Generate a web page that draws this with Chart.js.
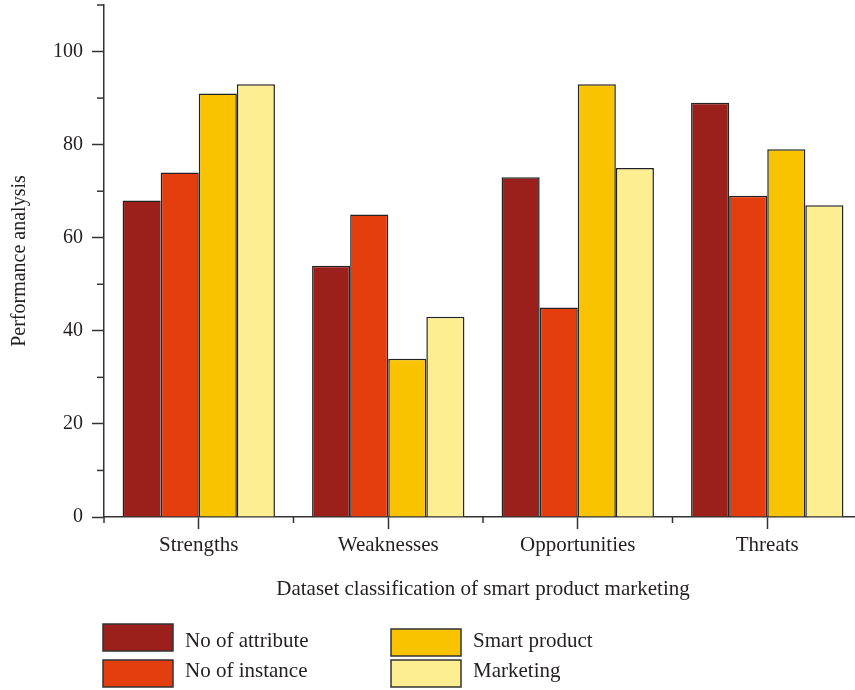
<!DOCTYPE html>
<html>
<head>
<meta charset="utf-8">
<script src="https://cdn.jsdelivr.net/npm/chart.js@4/dist/chart.umd.min.js"></script>
<style>
  html, body { margin: 0; padding: 0; background: #fff; overflow: hidden; }
  #wrap { position: relative; width: 862px; height: 690px; }
</style>
</head>
<body>
<div id="wrap"><canvas id="chart" width="862" height="690"></canvas></div>
<script>
// Categories and series
const categories = ['Strengths', 'Weaknesses', 'Opportunities', 'Threats'];
const seriesNames = ['No of attribute', 'No of instance', 'Smart product', 'Marketing'];
const noOfAttribute = [68, 54, 73, 89];
const noOfInstance = [74, 65, 45, 69];
const smartProduct = [91, 34, 93, 79];
const marketing = [93, 43, 75, 67];
const yTicks = [0, 20, 40, 60, 80, 100];
const yMinorTicks = [10, 30, 50, 70, 90, 110];

const colors = ['#9B201B', '#E43E0E', '#F9C300', '#FDEF91'];
const seriesValues = [noOfAttribute, noOfInstance, smartProduct, marketing];
const FONT = '"Liberation Serif", "DejaVu Serif", serif';
const INK = '#231F20';

// Minor tick marks on both axes, and the two-column legend under the chart
const extrasPlugin = {
  id: 'extras',
  afterDraw(chart) {
    const ctx = chart.ctx;
    const y = chart.scales.y, x = chart.scales.x;
    ctx.save();
    ctx.strokeStyle = '#333';
    ctx.lineWidth = 1.5;
    // y minor ticks
    yMinorTicks.forEach(v => {
      const py = y.getPixelForValue(v);
      ctx.beginPath();
      ctx.moveTo(y.right - 7, py);
      ctx.lineTo(y.right, py);
      ctx.stroke();
    });
    // x minor ticks at category boundaries
    const step = x.getPixelForValue(1) - x.getPixelForValue(0);
    for (let i = 0; i <= categories.length; i++) {
      const px = x.getPixelForValue(i) - step / 2;
      ctx.beginPath();
      ctx.moveTo(px, x.top);
      ctx.lineTo(px, x.top + 6);
      ctx.stroke();
    }
    // legend
    const slots = [
      { bx: 103, by: 624, ty: 641 },
      { bx: 103, by: 660, ty: 671 },
      { bx: 391, by: 629, ty: 641 },
      { bx: 391, by: 660, ty: 671 }
    ];
    ctx.font = '21px ' + FONT;
    ctx.textBaseline = 'middle';
    ctx.textAlign = 'left';
    chart.data.datasets.forEach((ds, i) => {
      const s = slots[i];
      ctx.fillStyle = ds.backgroundColor;
      ctx.fillRect(s.bx, s.by, 70, 27);
      ctx.strokeStyle = '#333';
      ctx.lineWidth = 1.5;
      ctx.strokeRect(s.bx, s.by, 70, 27);
      ctx.fillStyle = INK;
      ctx.fillText(ds.label, s.bx + 82, s.ty);
    });
    ctx.restore();
  }
};

new Chart(document.getElementById('chart'), {
  type: 'bar',
  data: {
    labels: categories,
    datasets: seriesNames.map((name, i) => ({
      label: name,
      data: seriesValues[i],
      backgroundColor: colors[i],
      borderColor: '#222',
      borderWidth: 1.5,
      categoryPercentage: 0.804,
      barPercentage: 1.0
    }))
  },
  options: {
    responsive: false,
    animation: false,
    layout: { padding: { top: 5, left: 0, right: 0, bottom: 88 } },
    plugins: {
      legend: { display: false },
      tooltip: { enabled: false }
    },
    scales: {
      x: {
        offset: true,
        grid: { display: true, drawOnChartArea: false, offset: false, tickLength: 12, tickColor: '#333', tickWidth: 1.5 },
        border: { display: true, color: '#333', width: 1.5 },
        ticks: { color: INK, font: { family: FONT, size: 21 }, padding: 4, maxRotation: 0 },
        title: { display: true, text: 'Dataset classification of smart product marketing', color: INK, font: { family: FONT, size: 21 }, padding: { top: 0, bottom: 0 } },
        afterFit(scale) { scale.height = 85; }
      },
      y: {
        min: 0,
        max: 110,
        grid: { display: true, drawOnChartArea: false, tickLength: 12, tickColor: '#333', tickWidth: 1.5 },
        border: { display: true, color: '#333', width: 1.5 },
        afterBuildTicks(scale) { scale.ticks = yTicks.map(v => ({ value: v })); },
        ticks: { color: INK, font: { family: FONT, size: 20 }, padding: 9 },
        title: { display: true, text: 'Performance analysis', color: INK, font: { family: FONT, size: 20 }, padding: { top: 8, bottom: 0 } },
        afterFit(scale) {
          scale.width = 104;
          scale.paddingTop = 0;
          scale.paddingBottom = 0;
        }
      }
    }
  },
  plugins: [extrasPlugin]
});
</script>
</body>
</html>
